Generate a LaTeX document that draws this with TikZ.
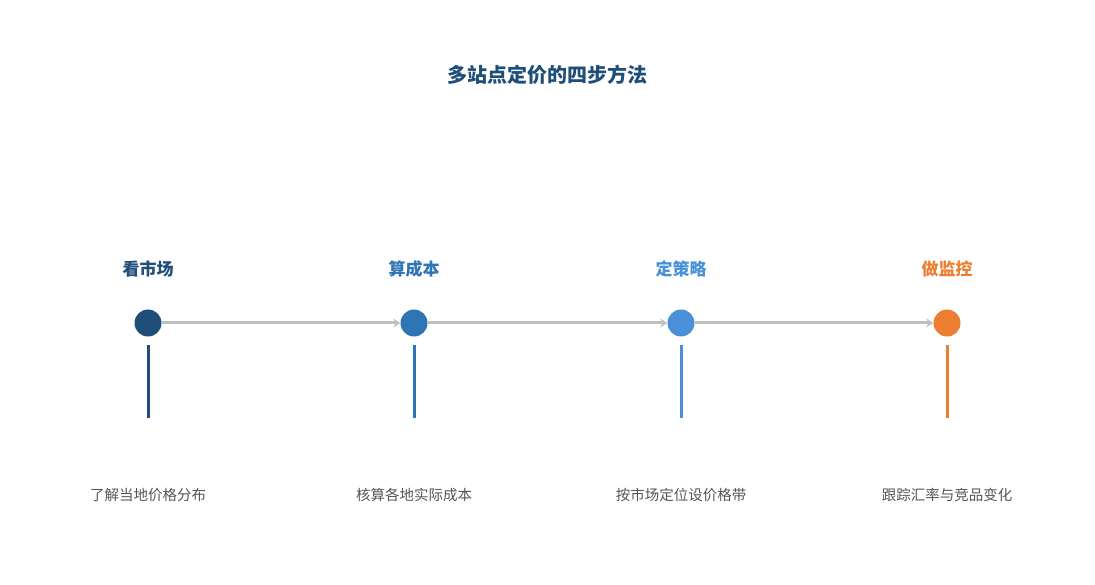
\documentclass[tikz,border=0pt]{standalone}
\usepackage{fontspec}
\setmainfont{Noto Sans CJK SC}
\usetikzlibrary{arrows.meta}
\definecolor{c1}{HTML}{1F4E79}
\definecolor{c2}{HTML}{2E75B6}
\definecolor{c3}{HTML}{4A90D9}
\definecolor{c4}{HTML}{ED7D31}
\definecolor{gl}{HTML}{BFBFBF}
\definecolor{tx}{HTML}{555555}
\begin{document}
\begin{tikzpicture}[x=1pt,y=-1pt,
 dot/.style={circle,fill=#1,minimum size=27pt,inner sep=0pt},
 head/.style={font=\fontsize{17}{20}\selectfont\bfseries,text=#1},
 desc/.style={font=\fontsize{14.5}{17}\selectfont,text=tx},
 conn/.style={gl,line width=3pt,-{Stealth[length=7pt,width=9pt]}},
 stem/.style={line width=3pt,#1}]
\useasboundingbox (0,0) rectangle (1095,585);
\node[font=\fontsize{20}{24}\selectfont\bfseries,text=c1] (title) at (547,75) {多站点定价的四步方法};
\foreach \i/\x/\c/\h/\d in {1/148/c1/看市场/了解当地价格分布,2/414/c2/算成本/核算各地实际成本,3/681/c3/定策略/按市场定位设价格带,4/947/c4/做监控/跟踪汇率与竞品变化}{
 \node[dot=\c] (d\i) at (\x,323) {};
 \node[head=\c] (h\i) at (\x,269) {\h};
 \coordinate (s\i) at (\x,345);
 \coordinate (e\i) at (\x,418);
 \draw[stem=\c] (s\i) -- (e\i);
 \node[desc] (t\i) at (\x,495) {\d};
}
\draw[conn] (d1) -- (d2);
\draw[conn] (d2) -- (d3);
\draw[conn] (d3) -- (d4);
\end{tikzpicture}
\end{document}
